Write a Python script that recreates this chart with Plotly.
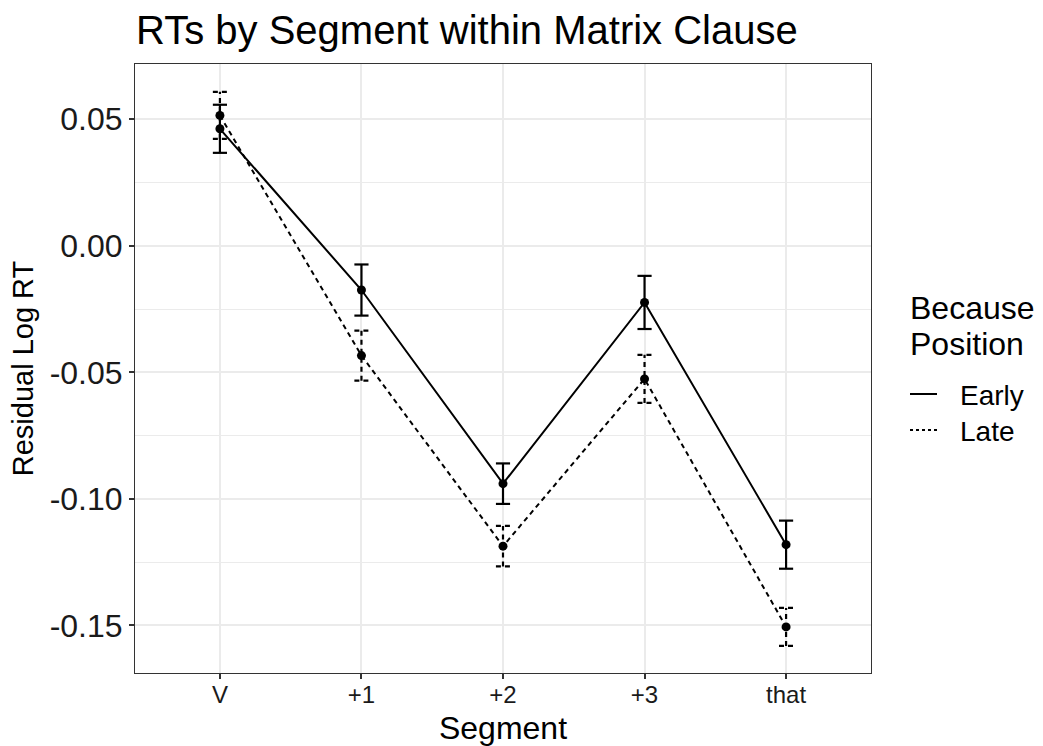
import plotly.graph_objects as go

segments = ["V", "+1", "+2", "+3", "that"]
early_mean = [0.0462, -0.0175, -0.0940, -0.0224, -0.1181]
early_se = [0.0095, 0.0101, 0.0080, 0.0105, 0.0095]
late_mean = [0.0515, -0.0434, -0.1187, -0.0526, -0.1506]
late_se = [0.0093, 0.0099, 0.0080, 0.0095, 0.0075]
groups = ["Early", "Late"]
legend_title_lines = ["Because", "Position"]
y_ticks = [0.05, 0.0, -0.05, -0.10, -0.15]
y_ticklabels = ["0.05", "0.00", "-0.05", "-0.10", "-0.15"]
y_minor = [0.025, -0.025, -0.075, -0.125]

FONT = "Liberation Sans, Arial, sans-serif"
CAP = 0.05  # half width of error bar caps in category units
DASH = "5px,4px"

W, H = 1043, 746
L, R, T, B = 135, 172, 64, 73
PW, PH = W - L - R, H - T - B


def px_x(px):
    return (px - L) / PW


def px_y(py):
    return 1 - (py - T) / PH


fig = go.Figure()


def errbar_xy(means, ses):
    xs, ys = [], []
    for i, (m, s) in enumerate(zip(means, ses)):
        lo, hi = m - s, m + s
        xs += [i, i, None, i - CAP, i + CAP, None, i - CAP, i + CAP, None]
        ys += [lo, hi, None, lo, lo, None, hi, hi, None]
    return xs, ys


xidx = list(range(len(segments)))
styles = ["solid", DASH]

for means, ses, dash in [(early_mean, early_se, styles[0]), (late_mean, late_se, styles[1])]:
    ex, ey = errbar_xy(means, ses)
    fig.add_trace(go.Scatter(x=ex, y=ey, mode="lines",
                             line=dict(color="black", width=2.2, dash=dash),
                             showlegend=False, hoverinfo="skip"))

for name, means, dash in [(groups[0], early_mean, styles[0]), (groups[1], late_mean, styles[1])]:
    fig.add_trace(go.Scatter(x=xidx, y=means, mode="lines+markers", name=name,
                             line=dict(color="black", width=2, dash=dash),
                             marker=dict(color="black", size=9),
                             showlegend=False))

# manual legend (title lines + keys)
annotations = []
shapes = []
annotations.append(dict(text=legend_title_lines[0], xref="paper", yref="paper",
                        x=px_x(908), y=px_y(308), xanchor="left", yanchor="middle",
                        showarrow=False, font=dict(size=32, family=FONT, color="black")))
annotations.append(dict(text=legend_title_lines[1], xref="paper", yref="paper",
                        x=px_x(908), y=px_y(344), xanchor="left", yanchor="middle",
                        showarrow=False, font=dict(size=32, family=FONT, color="black")))
for k, (g, dash) in enumerate(zip(groups, ["solid", "3px,3px"])):
    yc = 394 + 36 * k
    shapes.append(dict(type="line", xref="paper", yref="paper",
                       x0=px_x(910), x1=px_x(937), y0=px_y(yc), y1=px_y(yc),
                       line=dict(color="black", width=2, dash=dash)))
    annotations.append(dict(text=g, xref="paper", yref="paper",
                            x=px_x(958), y=px_y(yc + 1), xanchor="left", yanchor="middle",
                            showarrow=False, font=dict(size=28, family=FONT, color="black")))

fig.update_layout(
    width=W, height=H,
    margin=dict(l=L, r=R, t=T, b=B, autoexpand=False),
    paper_bgcolor="white", plot_bgcolor="white",
    font=dict(family=FONT, color="black"),
    title=dict(text="RTs by Segment within Matrix Clause",
               font=dict(size=40, color="black", family=FONT),
               x=136 / W, xanchor="left", xref="container",
               y=1 - 30 / H, yanchor="middle", yref="container"),
    showlegend=False,
    annotations=annotations,
    shapes=shapes,
)

fig.update_xaxes(
    range=[-0.6, 4.6], tickmode="array", tickvals=xidx, ticktext=segments,
    tickfont=dict(size=24, color="#1a1a1a"),
    showgrid=True, gridcolor="#EBEBEB", gridwidth=2,
    zeroline=False, showline=True, linecolor="#333333", linewidth=1, mirror=True,
    ticks="outside", ticklen=5, tickcolor="#333333", tickwidth=1.5,
    ticklabelstandoff=-5,
    title=dict(text="Segment", font=dict(size=32), standoff=14),
)
fig.update_yaxes(
    range=[-0.1688, 0.0718], tickmode="array", tickvals=y_ticks, ticktext=y_ticklabels,
    tickfont=dict(size=32, color="#1a1a1a"),
    showgrid=True, gridcolor="#EBEBEB", gridwidth=2,
    minor=dict(tickmode="array", tickvals=y_minor, showgrid=True,
               gridcolor="#EBEBEB", gridwidth=1, ticks=""),
    zeroline=False, showline=True, linecolor="#333333", linewidth=1, mirror=True,
    ticks="outside", ticklen=5, tickcolor="#333333", tickwidth=1.5,
    title=dict(text="Residual Log RT", font=dict(size=29), standoff=7),
)

fig.write_html("out.html")
